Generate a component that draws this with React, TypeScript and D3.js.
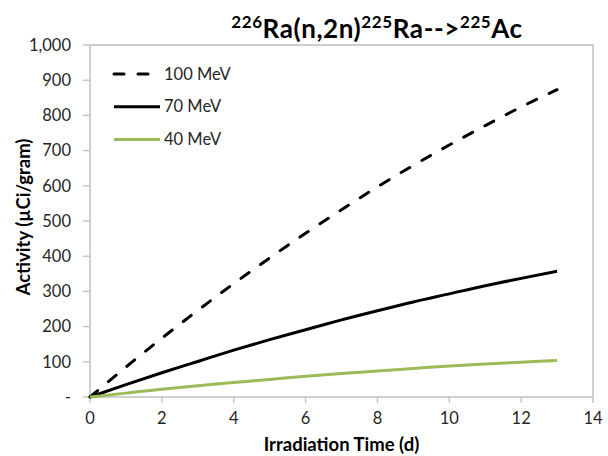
import React from 'react'
import * as d3 from 'd3'

// irradiation time in days
const days = [0, 1, 2, 3, 4, 5, 6, 7, 8, 9, 10, 11, 12, 13]
// activity in µCi/gram
const mev100 = [0, 85, 167, 246, 322, 395, 465, 532, 597, 658, 716, 771, 824, 873]
const mev70 = [0, 35, 69, 101, 133, 163, 191, 219, 245, 270, 293, 316, 337, 357]
const mev40 = [0, 11, 22, 32, 41, 50, 59, 67, 74, 81, 88, 94, 99, 104]

const xTicks = [0, 2, 4, 6, 8, 10, 12, 14]
const yTicks = [0, 100, 200, 300, 400, 500, 600, 700, 800, 900, 1000]

const seriesNames = ['100 MeV', '70 MeV', '40 MeV']
const seriesColors = ['#000000', '#000000', '#9BBB59']
const seriesDash = ['10 14', null, null]

const width = 608
const height = 456
const margin = { top: 45, right: 15, bottom: 59, left: 90 }
const font = 'Lato, "Open Sans", sans-serif'
const axisGrey = '#BFBFBF'

export default function App() {
  const x = d3
    .scaleLinear()
    .domain([0, 14])
    .range([margin.left, width - margin.right])
  const y = d3
    .scaleLinear()
    .domain([0, 1000])
    .range([height - margin.bottom, margin.top])

  const line = d3
    .line<number>()
    .x((_, i) => x(days[i]))
    .y(d => y(d))
    .curve(d3.curveMonotoneX)

  const series = [mev100, mev70, mev40]
  const fmt = d3.format(',')
  const x0 = x(0)
  const x1 = x(14)
  const yb = y(0)
  const yt = y(1000)

  return (
    <svg
      width={width}
      height={height}
      style={{ position: 'absolute', left: 0, top: 0, background: '#fff' }}
    >
      <rect x={0} y={0} width={width} height={height} fill="#fff" />

      {/* plot area border */}
      <path
        d={`M${x0},${yt}H${x1}V${yb}`}
        fill="none"
        stroke={axisGrey}
        strokeWidth={1.5}
      />

      {/* axes */}
      <line x1={x0} x2={x0} y1={yt} y2={yb} stroke={axisGrey} strokeWidth={1.5} />
      <line x1={x0} x2={x1} y1={yb} y2={yb} stroke={axisGrey} strokeWidth={1.5} />

      {yTicks.map(t => (
        <g key={'y' + t}>
          <line x1={x0 - 7} x2={x0} y1={y(t)} y2={y(t)} stroke={axisGrey} strokeWidth={1.3} />
          <text
            x={71}
            y={y(t)}
            dy="0.35em"
            textAnchor="end"
            fontFamily={font}
            fontSize={16.5}
            fill="#262626"
          >
            {t === 0 ? '-' : fmt(t)}
          </text>
        </g>
      ))}

      {xTicks.map(t => (
        <g key={'x' + t}>
          <line x1={x(t)} x2={x(t)} y1={yb} y2={yb + 6} stroke={axisGrey} strokeWidth={1.3} />
          <text
            x={x(t)}
            y={424}
            textAnchor="middle"
            fontFamily={font}
            fontSize={16.5}
            fill="#262626"
          >
            {t}
          </text>
        </g>
      ))}

      {/* curves */}
      {series.map((s, i) => (
        <path
          key={seriesNames[i]}
          d={line(s) || ''}
          fill="none"
          stroke={seriesColors[i]}
          strokeWidth={3}
          strokeDasharray={seriesDash[i] || undefined}
          strokeLinecap={seriesDash[i] ? 'round' : 'butt'}
          strokeLinejoin="round"
        />
      ))}

      {/* legend */}
      {seriesNames.map((name, i) => {
        const ly = 74 + i * 32.7
        return (
          <g key={'leg' + name}>
            <line
              x1={114}
              x2={seriesDash[i] ? 150 : 160}
              y1={ly}
              y2={ly}
              stroke={seriesColors[i]}
              strokeWidth={3}
              strokeDasharray={seriesDash[i] || undefined}
              strokeLinecap={seriesDash[i] ? 'round' : 'butt'}
            />
            <text
              x={164}
              y={ly}
              dy="0.35em"
              fontFamily={font}
              fontSize={16.5}
              fill="#262626"
            >
              {name}
            </text>
          </g>
        )
      })}

      {/* titles */}
      <text
        x={377}
        y={38}
        textAnchor="middle"
        fontFamily={font}
        fontSize={26}
        fontWeight="bold"
        letterSpacing={0.6}
        fill="#000"
      >
        <tspan fontSize={17} dy={-10}>226</tspan>
        <tspan dy={10}>Ra(n,2n)</tspan>
        <tspan fontSize={17} dy={-10}>225</tspan>
        <tspan dy={10}>Ra--&gt;</tspan>
        <tspan fontSize={17} dy={-10}>225</tspan>
        <tspan dy={10}>Ac</tspan>
      </text>

      <text
        x={(x0 + x1) / 2}
        y={451}
        textAnchor="middle"
        fontFamily={font}
        fontSize={18.5}
        fontWeight="bold"
        fill="#000"
      >
        Irradiation Time (d)
      </text>

      <text
        transform={`translate(30,${(yt + yb) / 2 - 4}) rotate(-90)`}
        textAnchor="middle"
        fontFamily={font}
        fontSize={18.5}
        fontWeight="bold"
        fill="#000"
      >
        Activity (µCi/gram)
      </text>
    </svg>
  )
}
